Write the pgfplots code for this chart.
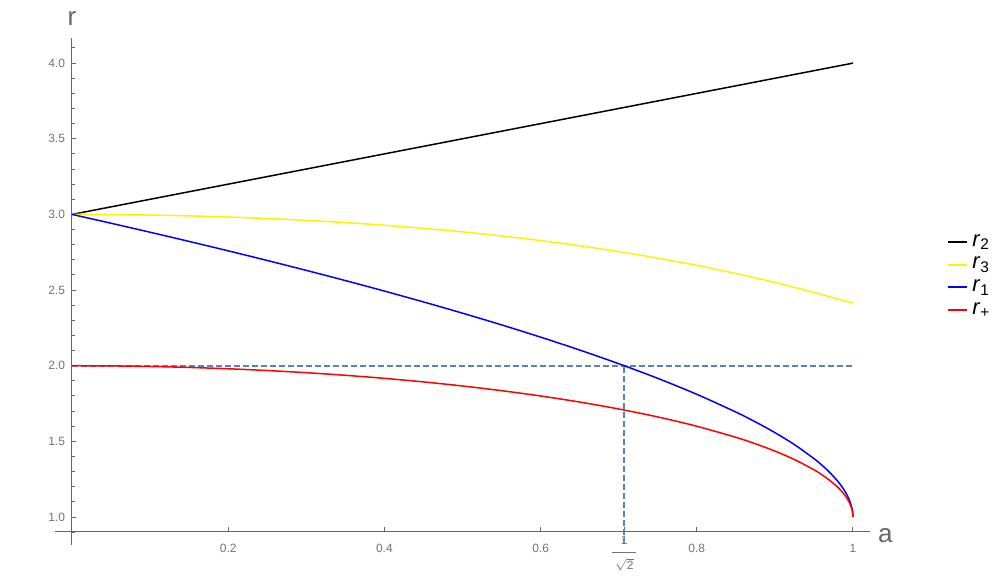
\documentclass[border=0pt]{standalone}
\usepackage{pgfplots}
\pgfplotsset{compat=1.18}
\usepackage{fontspec}
\setmainfont{Liberation Sans}
\definecolor{axgray}{gray}{0.4}
\definecolor{tickgray}{gray}{0.45}
\definecolor{steel}{rgb}{0.368417,0.506779,0.709798}
\newcommand{\invsqrttwo}{\vbox{\hbox to 12pt{\hfil 1\hfil}\vskip 4pt{\color{tickgray}\hrule width 12pt height 0.4pt}\vskip 2.5pt\hbox to 12pt{\hfil$\sqrt{\mbox{2}}$\hfil}}}
\begin{document}
\begin{tikzpicture}
\begin{axis}[
  scale only axis, width=407.5pt, height=253.5pt,
  xmin=-0.0218, xmax=1.0218, ymin=0.815, ymax=4.166,
  axis x line=bottom, axis y line=left,
  axis x line shift=-7pt, axis y line shift=-8.5pt,
  axis line style={-, axgray, line width=0.5pt},
  tick style={axgray, line width=0.5pt},
  tick align=inside,
  major tick length=2.2pt, minor tick length=1.3pt,
  xtick={0.2,0.4,0.6,0.8,1},
  xticklabels={0.2,0.4,0.6,0.8,1},
  extra x ticks={0.70711},
  extra x tick labels={{\invsqrttwo}},
  extra x tick style={xticklabel style={yshift=4pt}},
  ytick={1,1.5,2,2.5,3,3.5,4},
  yticklabels={1.0,1.5,2.0,2.5,3.0,3.5,4.0},
  minor ytick={0.9,1.1,1.2,1.3,1.4,1.6,1.7,1.8,1.9,2.1,2.2,2.3,2.4,2.6,2.7,2.8,2.9,3.1,3.2,3.3,3.4,3.6,3.7,3.8,3.9,4.1},
  ticklabel style={font=\fontsize{6}{7}\selectfont, text=tickgray},
  xticklabel style={yshift=-3pt},
  clip=false,
  legend style={at={(1.0871,0.5306)}, anchor=west, draw=none, fill=none,
    font=\fontsize{11}{13}\selectfont, row sep=0pt},
  legend cell align=left,
  legend image code/.code={\draw[#1, line width=1pt] (0pt,0pt) -- (9.5pt,0pt);},
]
% dashed guides
\addplot[steel, line width=0.9pt, dash pattern=on 3pt off 1.5pt, forget plot] coordinates {(0,2) (1,2)};
\addplot[steel, line width=0.8pt, dash pattern=on 3pt off 1.5pt, forget plot] coordinates {(0.70711,0.82) (0.70711,2)};
% r2
\addplot[black, line width=0.75pt] coordinates {(0,3) (1,4)};
\addlegendentry{\textit{r}\textsubscript{2}}
% r3
\addplot[yellow, line width=0.75pt, smooth] coordinates {
(0,3) (0.1,2.9958) (0.2,2.9829) (0.3,2.9609) (0.4,2.9286) (0.5,2.8846)
(0.6,2.8273) (0.7,2.7543) (0.8,2.6632) (0.9,2.5509) (1,2.414)};
\addlegendentry{\textit{r}\textsubscript{3}}
% r1
\addplot[blue, line width=0.75pt, smooth, tension=0.5] coordinates {
(0,3) (0.05,2.941696) (0.1,2.882196) (0.15,2.821396) (0.2,2.759194) (0.25,2.695452)
(0.3,2.630024) (0.35,2.562736) (0.4,2.493362) (0.45,2.421656) (0.5,2.347296)
(0.55,2.269882) (0.6,2.188912) (0.65,2.103706) (0.7,2.013334) (0.75,1.916472)
(0.8,1.811088) (0.85,1.693756) (0.875,1.628784) (0.9,1.557854) (0.925,1.478582) (0.95,1.386276)
(0.96,1.343588) (0.97,1.295658) (0.98,1.239548) (0.985,1.206508) (0.99,1.167644) (0.995,1.117656) (0.999,1.052086) (1,1)};
\addlegendentry{\textit{r}\textsubscript{1}}
% r+
\addplot[red, line width=0.75pt, smooth, tension=0.5] coordinates {
(0,2) (0.05,1.99875) (0.1,1.99499) (0.15,1.98869) (0.2,1.97980) (0.25,1.96825)
(0.3,1.95394) (0.35,1.93675) (0.4,1.91652) (0.45,1.89303) (0.5,1.86603)
(0.55,1.83516) (0.6,1.8) (0.65,1.75993) (0.7,1.71414) (0.75,1.66144)
(0.8,1.6) (0.85,1.52678) (0.875,1.484123) (0.9,1.43589) (0.925,1.37997) (0.95,1.31225)
(0.96,1.28) (0.97,1.24310) (0.98,1.19900) (0.985,1.172554) (0.99,1.14107) (0.995,1.09987) (0.999,1.04471) (1,1)};
\addlegendentry{\textit{r}\textsubscript{+}}
\node[anchor=base, text=axgray, font=\fontsize{13}{15}\selectfont, yshift=6.5pt] at (axis cs:0,4.166) {r};
\node[anchor=base west, text=axgray, font=\fontsize{13}{15}\selectfont, xshift=0.5pt, yshift=-5.5pt] at (axis cs:1.0218,0.907) {a};
\end{axis}
\pgfresetboundingbox
\path[use as bounding box] (-27.5pt,-19.5pt) rectangle (472.5pt,272.5pt);
\end{tikzpicture}
\end{document}
